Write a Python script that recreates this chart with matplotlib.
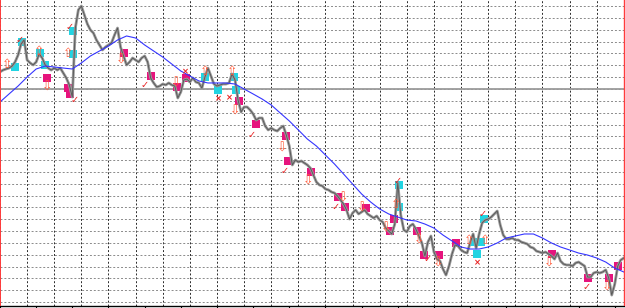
import numpy as np
import matplotlib.pyplot as plt
from matplotlib.ticker import MultipleLocator

# Precos de fechamento, uma barra por valor
fechamento = [
    1.09444, 1.09460, 1.09469, 1.09477, 1.09494, 1.09528, 1.09587, 1.09680, 1.09714, 1.09545,
    1.09520, 1.09503, 1.09528, 1.09596, 1.09562, 1.09503, 1.09477, 1.09460, 1.09477, 1.09460,
    1.09477, 1.09435, 1.09393, 1.09334, 1.09232, 1.09815, 1.09968, 1.10001, 1.09925, 1.09849,
    1.09799, 1.09773, 1.09714, 1.09672, 1.09630, 1.09655, 1.09672, 1.09689, 1.09756, 1.09815,
    1.09655, 1.09579, 1.09503, 1.09528, 1.09562, 1.09545, 1.09528, 1.09562, 1.09579, 1.09528,
    1.09393, 1.09351, 1.09317, 1.09325, 1.09342, 1.09334, 1.09351, 1.09334, 1.09325, 1.09224,
    1.09275, 1.09376, 1.09384, 1.09359, 1.09393, 1.09359, 1.09351, 1.09308, 1.09401, 1.09477,
    1.09410, 1.09342, 1.09325, 1.09334, 1.09342, 1.09342, 1.09351, 1.09427, 1.09376, 1.09207,
    1.09106, 1.09148, 1.09148, 1.09123, 1.09089, 1.09038, 1.09055, 1.09055, 1.08987, 1.08954,
    1.08970, 1.08954, 1.08945, 1.08970, 1.08987, 1.08911, 1.08818, 1.08658, 1.08700, 1.08683,
    1.08692, 1.08675, 1.08658, 1.08632, 1.08573, 1.08514, 1.08489, 1.08480, 1.08455, 1.08447,
    1.08430, 1.08421, 1.08396, 1.08362, 1.08328, 1.08278, 1.08201, 1.08252, 1.08278, 1.08244,
    1.08261, 1.08278, 1.08244, 1.08227, 1.08210, 1.08227, 1.08193, 1.08176, 1.08125, 1.08100,
    1.08075, 1.08159, 1.08506, 1.08235, 1.08109, 1.08092, 1.08142, 1.08159, 1.08117, 1.08058,
    1.07999, 1.07889, 1.08007, 1.08058, 1.07923, 1.07863, 1.07847, 1.07779, 1.07728, 1.07804,
    1.07906, 1.07982, 1.07973, 1.07940, 1.07923, 1.07914, 1.07999, 1.08075, 1.07956, 1.08075,
    1.08168, 1.08193, 1.08201, 1.08218, 1.08244, 1.08269, 1.08151, 1.08066, 1.08032, 1.08032,
    1.08041, 1.08024, 1.08024, 1.08007, 1.07999, 1.07990, 1.07965, 1.07956, 1.07931, 1.07923,
    1.07914, 1.07923, 1.07906, 1.07889, 1.07863, 1.07914, 1.07847, 1.07821, 1.07813, 1.07813,
    1.07804, 1.07830, 1.07838, 1.07821, 1.07804, 1.07711, 1.07711, 1.07745, 1.07754, 1.07745,
    1.07754, 1.07771, 1.07703, 1.07559, 1.07652, 1.07804, 1.07855, 1.07872,
]

# Media movel, um valor a cada 3 barras
passo_media = 3
media_movel = [
    1.09190, 1.09258, 1.09325, 1.09401, 1.09469, 1.09494, 1.09486, 1.09477, 1.09469, 1.09520,
    1.09579, 1.09621, 1.09663, 1.09714, 1.09748, 1.09731, 1.09672, 1.09621, 1.09570, 1.09511,
    1.09452, 1.09410, 1.09368, 1.09351, 1.09351, 1.09351, 1.09342, 1.09300, 1.09258, 1.09215,
    1.09165, 1.09097, 1.09030, 1.08954, 1.08877, 1.08818, 1.08742, 1.08666, 1.08582, 1.08497,
    1.08413, 1.08345, 1.08286, 1.08244, 1.08218, 1.08193, 1.08185, 1.08159, 1.08125, 1.08066,
    1.08016, 1.07965, 1.07948, 1.07948, 1.07965, 1.07999, 1.08041, 1.08058, 1.08075, 1.08075,
    1.08041, 1.07999, 1.07965, 1.07940, 1.07914, 1.07897, 1.07872, 1.07838, 1.07787, 1.07754,
]

# Nivel horizontal
nivel = 1.0930

# Sinais de venda (quadrados magenta)
venda_barra = [15.6, 22.6, 23.2, 41.2, 50.1, 58.7, 61.7, 79.3, 85.0, 94.9, 95.6, 103.2,
               112.2, 114.5, 121.5, 130.8, 129.4, 138.4, 140.7, 145.7, 151.3, 183.2,
               195.2, 202.1, 205.1]
venda_preco = [1.09393, 1.09308, 1.09258, 1.09604, 1.09410, 1.09317, 1.09393, 1.09199,
               1.09004, 1.08903, 1.08692, 1.08599, 1.08387, 1.08303, 1.08294, 1.08201,
               1.08100, 1.08100, 1.07897, 1.07897, 1.07999, 1.07906, 1.07703, 1.07703,
               1.07804]

# Sinais de compra (quadrados ciano)
compra_barra = [5.0, 7.3, 13.3, 14.9, 24.2, 24.2, 68.0, 72.4, 77.7, 78.3, 132.4, 132.4,
                160.6, 157.3, 159.6, 158.3]
compra_preco = [1.09486, 1.09697, 1.09604, 1.09503, 1.09790, 1.09596, 1.09401, 1.09292,
                1.09401, 1.09292, 1.08489, 1.08303, 1.08201, 1.08007, 1.08007, 1.07906]

# Setas
seta_barra = [2.3, 12.9, 15.6, 22.6, 40.2, 58.4, 68.0, 77.0, 78.0, 93.6, 102.2, 113.8,
              120.1, 131.4, 128.1, 139.1, 145.4, 155.7, 161.0, 182.2, 201.5]
seta_preco = [1.09503, 1.09613, 1.09317, 1.09604, 1.09545, 1.09351, 1.09444, 1.09444,
              1.09110, 1.08801, 1.08523, 1.08379, 1.08294, 1.08320, 1.08125, 1.08024,
              1.07830, 1.08024, 1.08024, 1.07830, 1.07627]
seta_texto = ['⇧', '⇧', '⇩', '⇧', '⇩', '⇩', '⇧', '⇧', '⇩', '⇩', '⇩', '⇩',
              '⇩', '⇧', '⇩', '⇩', '⇩', '⇧', '⇧', '⇩', '⇩']

# Confirmacoes
check_barra = [6.6, 24.9, 23.2, 48.1, 83.6, 94.6, 111.2, 131.8, 142.0, 160.0, 194.5]
check_preco = [1.09714, 1.09207, 1.09824, 1.09334, 1.08911, 1.08607, 1.08303, 1.08523,
               1.07863, 1.08244, 1.07627]

# Cancelados
cancel_barra = [72.4, 76.0, 61.4, 158.3]
cancel_preco = [1.09220, 1.09225, 1.09444, 1.07830]

fig = plt.figure(figsize=(6.25, 3.08), dpi=100)
ax = fig.add_axes([0, 1.7 / 308, 1, 306.3 / 308])

# Quadrados embaixo da linha de preco
ax.plot(venda_barra, venda_preco, 's', color='#e6147d', ms=6, mew=0, zorder=2)
ax.plot(compra_barra, compra_preco, 's', color='#22d4e2', ms=6, mew=0, zorder=2)

# Linha de preco
x = np.arange(len(fechamento))
ax.plot(x, fechamento, color='#999999', lw=2.0, zorder=3)
ax.plot(x, fechamento, color='#555555', lw=0.6, zorder=4)

# Media movel
xm = np.arange(len(media_movel)) * passo_media
ax.plot(xm, media_movel, color='#3535ff', lw=0.8, zorder=5)

# Nivel e separadores
ax.axhline(nivel, color='#9b9b9b', lw=1.3, zorder=1)
ax.axvline(0, color='#ff3b3b', lw=1.4, zorder=6)
ax.axvline(len(fechamento) - 1, color='#ff3b3b', lw=1.0, zorder=6)

for b, p, t in zip(seta_barra, seta_preco, seta_texto):
    ax.text(b, p, t, color='#ff5a3a', fontsize=9, ha='center', va='center', zorder=7)
for b, p in zip(check_barra, check_preco):
    ax.text(b, p, '✓', color='#e82020', fontsize=7, fontweight='bold',
            ha='center', va='center', zorder=7)
for b, p in zip(cancel_barra, cancel_preco):
    ax.text(b, p, '×', color='#e82020', fontsize=6, fontweight='bold',
            ha='center', va='center', zorder=7)

# Eixos e grade
ax.set_xlim(0, 207.4)
ax.set_ylim(1.07464, 1.10052)
ax.xaxis.set_major_locator(MultipleLocator(9))
ax.xaxis.set_minor_locator(MultipleLocator(12))
ax.xaxis.remove_overlapping_locs = False
ax.yaxis.set_major_locator(MultipleLocator(0.001))
ax.grid(axis='x', which='major', color='#2a2a2a', ls=(0, (2, 2)), lw=0.7)
ax.grid(axis='y', which='major', color='#8a8a8a', ls=(0, (2, 2)), lw=0.7)
ax.tick_params(axis='x', which='major', length=0, labelbottom=False)
ax.tick_params(axis='x', which='minor', length=3, width=0.8, direction='out', labelbottom=False)
ax.tick_params(axis='y', length=0, labelleft=False)
for lado in ['top', 'left', 'right']:
    ax.spines[lado].set_visible(False)
ax.spines['bottom'].set_linewidth(1.0)
ax.set_axisbelow(True)

fig.savefig('out.png', dpi=100)
